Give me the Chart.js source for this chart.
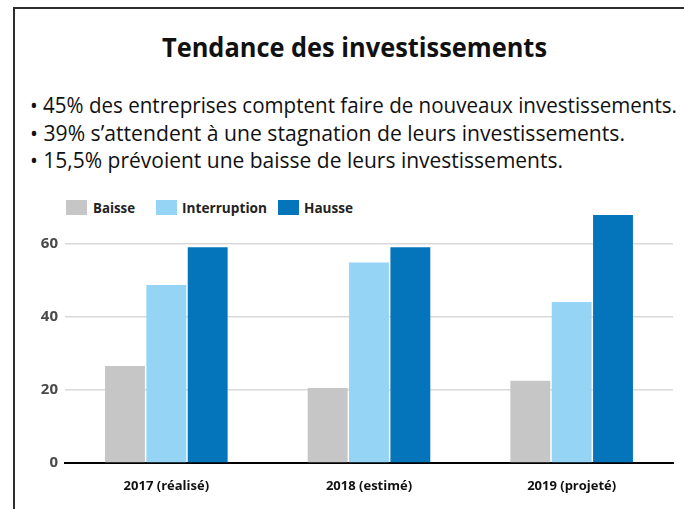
<!DOCTYPE html>
<html lang="fr">
<head>
<meta charset="UTF-8">
<title>Tendance des investissements</title>
<script src="https://cdn.jsdelivr.net/npm/chart.js"></script>
<style>
  html, body { margin: 0; padding: 0; background: #fff; }
  body { width: 684px; height: 509px; position: relative; overflow: hidden; font-family: "Open Sans", sans-serif; }
  .frame-top { position: absolute; left: 13px; top: 7px; width: 671px; height: 2px; background: #2e2e2e; }
  .frame-left { position: absolute; left: 13px; top: 7px; width: 2px; height: 502px; background: #2e2e2e; }
  .fit { position: absolute; white-space: nowrap; line-height: 1; transform-origin: 0 0; color: #111; }
  #title { left: 162px; top: 34px; font-size: 26px; font-weight: 700; }
  .bullet { font-size: 22px; left: 30px; }
  .lg-box { position: absolute; top: 200px; width: 21px; height: 15px; }
  .lg-text { position: absolute; top: 199px; font-size: 14px; font-weight: 700; color: #222; line-height: 17px; white-space: nowrap; transform-origin: 0 0; }
  #chartBox { position: absolute; left: 0; top: 190px; width: 684px; height: 319px; }
</style>
</head>
<body>
  <div class="frame-top"></div>
  <div class="frame-left"></div>

  <div id="title" class="fit" data-w="385">Tendance des investissements</div>
  <div class="fit bullet" style="top:93px" data-w="647">• 45% des entreprises comptent faire de nouveaux investissements.</div>
  <div class="fit bullet" style="top:121px" data-w="595">• 39% s’attendent à une stagnation de leurs investissements.</div>
  <div class="fit bullet" style="top:148px" data-w="533">• 15,5% prévoient une baisse de leurs investissements.</div>

  <div id="legend"></div>

  <div id="chartBox"><canvas id="chart" width="684" height="319"></canvas></div>

<script>
// data
const categories = ['2017 (réalisé)', '2018 (estimé)', '2019 (projeté)'];
const seriesNames = ['Baisse', 'Interruption', 'Hausse'];
const baisse = [26.5, 20.5, 22.5];
const interruption = [48.7, 54.8, 44];
const hausse = [59, 59, 67.8];
const yMax = 70;
const yStep = 20;

const colors = ['#c6c6c6', '#95d4f4', '#0575bb'];

// legend (html, placed over the chart top)
const legendPos = [[66, 93, 42], [156, 182, 85], [278, 304, 49]];
const legend = document.getElementById('legend');
seriesNames.forEach(function (name, i) {
    const box = document.createElement('div');
    box.className = 'lg-box';
    box.style.left = legendPos[i][0] + 'px';
    box.style.background = colors[i];
    legend.appendChild(box);
    const txt = document.createElement('div');
    txt.className = 'lg-text';
    txt.style.left = legendPos[i][1] + 'px';
    txt.textContent = name;
    txt.dataset.w = legendPos[i][2];
    legend.appendChild(txt);
});

// squeeze text lines to the widths seen in the reference
function fitAll() {
    document.querySelectorAll('[data-w]').forEach(function (el) {
        el.style.display = 'inline-block';
        const w = el.getBoundingClientRect().width;
        el.style.transform = 'scaleX(' + (parseFloat(el.dataset.w) / w) + ')';
    });
}
fitAll();

new Chart(document.getElementById('chart'), {
    type: 'bar',
    data: {
        labels: categories,
        datasets: [
            { label: seriesNames[0], data: baisse, backgroundColor: colors[0] },
            { label: seriesNames[1], data: interruption, backgroundColor: colors[1] },
            { label: seriesNames[2], data: hausse, backgroundColor: colors[2] }
        ]
    },
    options: {
        responsive: false,
        animation: false,
        layout: { padding: { left: 0, right: 11, top: 17, bottom: 0 } },
        plugins: { legend: { display: false }, tooltip: { enabled: false } },
        datasets: { bar: { categoryPercentage: 0.612, barPercentage: 0.965 } },
        scales: {
            x: {
                grid: { display: false, drawTicks: false },
                border: { display: true, color: '#000', width: 2 },
                ticks: {
                    padding: 15,
                    color: '#111',
                    font: { family: 'Open Sans', size: 13, weight: 'bold' }
                },
                afterFit: function (scale) { scale.height = 46; }
            },
            y: {
                min: 0,
                max: yMax,
                grid: { color: '#d9d9d9', lineWidth: 1.5, drawTicks: false },
                border: { display: false },
                ticks: {
                    stepSize: yStep,
                    includeBounds: false,
                    padding: 7,
                    color: '#4a4a4a',
                    font: { family: 'Open Sans', size: 15, weight: 'bold' }
                },
                afterFit: function (scale) { scale.width = 65; }
            }
        }
    }
});
</script>
</body>
</html>
